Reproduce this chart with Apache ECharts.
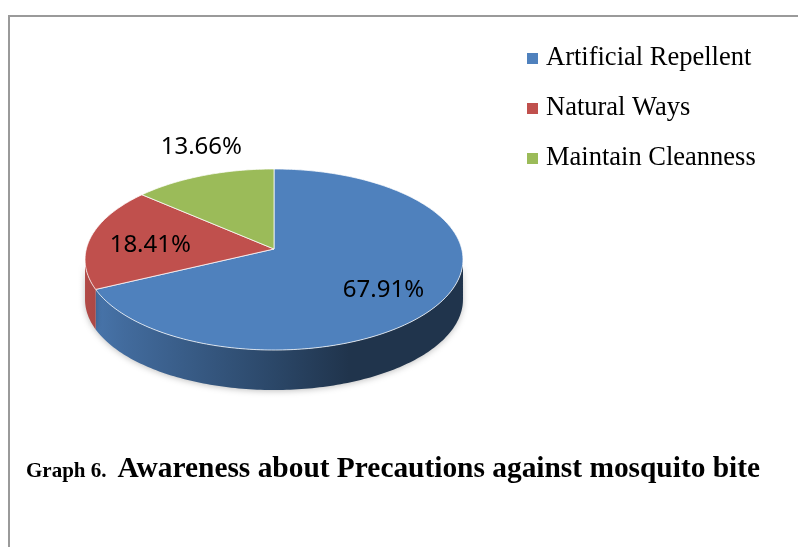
<!DOCTYPE html>
<html>
<head>
<meta charset="utf-8">
<script src="https://cdn.jsdelivr.net/npm/echarts@6/dist/echarts.min.js"></script>
<style>
html,body{margin:0;padding:0;background:#fff;}
#chart{width:798px;height:547px;}
</style>
</head>
<body>
<div id="chart"></div>
<script>
// ---- data ----
const categories = ['Artificial Repellent', 'Natural Ways', 'Maintain Cleanness'];
const values = [67.91, 18.41, 13.66];
const colors = ['#4f81bd', '#c0504d', '#9bbb59'];

// ---- layout / style (not data) ----
// perspective pie: apex (cx, cy), radii R (x) and R2 (depth), perspective k, wall depth
const PIE = { cx: 274, cy: 249, R: 187.7, R2: 89.3, k: 0.116, depth: 40 };
const LABEL_FONT = '24px "Noto Sans", "Open Sans", sans-serif';
const labelOffsets = [[2, 9], [-4, 4], [-2, -28]];

function mixBlack(hex, f) {
  const n = parseInt(hex.slice(1), 16);
  const r = Math.round(((n >> 16) & 255) * (1 - f));
  const g = Math.round(((n >> 8) & 255) * (1 - f));
  const b = Math.round((n & 255) * (1 - f));
  return 'rgb(' + r + ',' + g + ',' + b + ')';
}
// point on the (perspective) disc at angle theta (clockwise from 12 o'clock), radius fraction f
function pt(theta, f, dy) {
  const X = f * Math.sin(theta), Z = f * Math.cos(theta);
  const w = 1 + PIE.k * Z;
  return [PIE.cx + PIE.R * X / w, PIE.cy - PIE.R2 * Z / w + (dy || 0)];
}
function arc(a0, a1, dy) {
  const pts = [];
  const n = Math.max(2, Math.ceil(Math.abs(a1 - a0) / (Math.PI / 180)));
  for (let k = 0; k <= n; k++) pts.push(pt(a0 + (a1 - a0) * k / n, 1, dy));
  return pts;
}

const total = values.reduce((s, v) => s + v, 0);

function makeRender(i) {
  return function (params, api) {
    let before = 0;
    for (let j = 0; j < i; j++) before += values[j];
    const v = api.value(0);
    const a0 = before / total * 2 * Math.PI;
    const a1 = (before + v) / total * 2 * Math.PI;
    const children = [];
    // visible outer side wall: between the silhouette points (cos theta = -k)
    const t = Math.acos(-PIE.k);
    const s = Math.max(a0, t), e = Math.min(a1, 2 * Math.PI - t);
    if (e > s) {
      const top = arc(s, e, 0);
      const bot = arc(e, s, PIE.depth);
      const c = colors[i];
      children.push({
        type: 'polygon',
        shape: { points: top.concat(bot) },
        style: {
          fill: new echarts.graphic.LinearGradient(PIE.cx - PIE.R, 0, PIE.cx + PIE.R, 0, [
            { offset: 0, color: mixBlack(c, 0.08) },
            { offset: 0.1, color: mixBlack(c, 0.17) },
            { offset: 0.5, color: mixBlack(c, 0.45) },
            { offset: 0.7, color: mixBlack(c, 0.6) },
            { offset: 1, color: mixBlack(c, 0.6) }
          ], true),
          shadowBlur: 6,
          shadowColor: 'rgba(0,0,0,0.25)',
          shadowOffsetY: 1
        }
      });
    }
    // top face
    const topPts = [[PIE.cx, PIE.cy]].concat(arc(a0, a1, 0));
    children.push({
      type: 'polygon',
      shape: { points: topPts },
      style: { fill: colors[i], stroke: 'rgba(255,255,255,0.75)', lineWidth: 1 }
    });
    // label
    const mid = (a0 + a1) / 2;
    const frac = v / total;
    const p = frac >= 0.15 ? pt(mid, 0.65, 0) : pt(mid, 1, 0);
    children.push({
      type: 'text',
      style: {
        text: v.toFixed(2) + '%',
        x: p[0] + labelOffsets[i][0], y: p[1] + labelOffsets[i][1],
        font: LABEL_FONT,
        fill: '#000',
        align: 'center',
        verticalAlign: 'middle'
      }
    });
    return { type: 'group', children: children };
  };
}

const series = categories.map((name, i) => ({
  type: 'custom',
  name: name,
  coordinateSystem: 'none',
  itemStyle: { color: colors[i] },
  renderItem: makeRender(i),
  data: [[values[i]]],
  silent: true
}));

const chart = echarts.init(document.getElementById('chart'));
chart.setOption({
  animation: false,
  backgroundColor: '#fff',
  legend: {
    orient: 'vertical',
    left: 522,
    top: 40,
    itemWidth: 11,
    itemHeight: 11,
    itemGap: 23,
    icon: 'rect',
    selectedMode: false,
    data: categories,
    textStyle: { fontFamily: '"Liberation Serif", "Times New Roman", serif', fontSize: 26.5, color: '#000', padding: [0, 0, 0, 3] }
  },
  title: {
    text: '{a|Graph 6.}{b|Awareness about Precautions against mosquito bite}',
    left: 26,
    top: 452,
    padding: 0,
    textStyle: {
      rich: {
        a: { fontFamily: '"Liberation Serif", serif', fontSize: 21, fontWeight: 'bold', color: '#000', verticalAlign: 'bottom', lineHeight: 32, padding: [0, 11, 2, 0] },
        b: { fontFamily: '"Liberation Serif", serif', fontSize: 29.4, fontWeight: 'bold', color: '#000', verticalAlign: 'bottom', lineHeight: 32 }
      }
    }
  },
  graphic: [{
    type: 'polyline',
    silent: true,
    shape: { points: [[9, 560], [9, 16], [810, 16]] },
    style: { stroke: '#9a9a9a', lineWidth: 2, fill: null }
  }],
  series: series
});
</script>
</body>
</html>
